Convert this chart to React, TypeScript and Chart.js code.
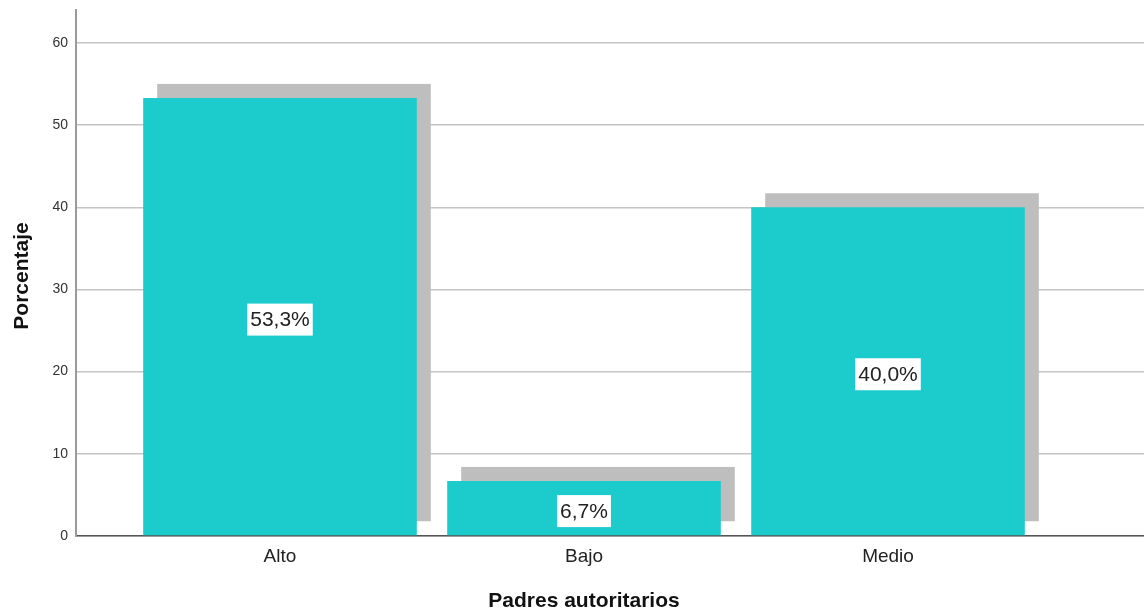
import React, { useEffect, useRef } from "react";
import { Chart, registerables } from "chart.js";

Chart.register(...registerables);

const categories = ["Alto", "Bajo", "Medio"];
const percentages = [53.3, 6.7, 40.0];
const yTicks = [0, 10, 20, 30, 40, 50, 60];
const xTitle = "Padres autoritarios";
const yTitle = "Porcentaje";

const FONT = "'Liberation Sans', Arial, sans-serif";

const shadowPlugin = {
  id: "barShadow",
  beforeDatasetsDraw(chart: any) {
    const ctx = chart.ctx;
    const meta = chart.getDatasetMeta(0);
    ctx.save();
    ctx.fillStyle = "#bebebe";
    meta.data.forEach((bar: any) => {
      const p = bar.getProps(["x", "y", "base", "width"], true);
      ctx.fillRect(p.x - p.width / 2 + 14, p.y - 14, p.width, p.base - p.y);
    });
    ctx.restore();
  },
};

const labelPlugin = {
  id: "barLabels",
  afterDatasetsDraw(chart: any) {
    const ctx = chart.ctx;
    const meta = chart.getDatasetMeta(0);
    ctx.save();
    ctx.font = `21px ${FONT}`;
    ctx.textAlign = "center";
    ctx.textBaseline = "middle";
    meta.data.forEach((bar: any, i: number) => {
      const p = bar.getProps(["x", "y", "base"], true);
      const text = percentages[i].toFixed(1).replace(".", ",") + "%";
      const w = ctx.measureText(text).width + 6;
      const h = 32;
      const cy = (p.y + p.base) / 2 + 3;
      ctx.fillStyle = "#ffffff";
      ctx.fillRect(p.x - w / 2, cy - h / 2, w, h);
      ctx.fillStyle = "#222222";
      ctx.fillText(text, p.x, cy + 1);
    });
    ctx.restore();
  },
};

const titlePlugin = {
  id: "axisTitles",
  afterDraw(chart: any) {
    const ctx = chart.ctx;
    const area = chart.chartArea;
    const xs = chart.scales.x;
    ctx.save();
    ctx.font = `bold 21px ${FONT}`;
    ctx.fillStyle = "#111111";
    ctx.textAlign = "center";
    ctx.textBaseline = "middle";
    ctx.fillText(xTitle, xs.getPixelForValue(1), 601);
    ctx.translate(22, (area.top + area.bottom) / 2 + 3);
    ctx.rotate(-Math.PI / 2);
    ctx.fillText(yTitle, 0, 0);
    ctx.restore();
  },
};

export default function App() {
  const ref = useRef<HTMLCanvasElement | null>(null);

  useEffect(() => {
    if (!ref.current) return;
    const chart = new Chart(ref.current, {
      type: "bar",
      data: {
        datasets: [
          {
            data: categories.map((c, i) => ({ x: i, y: percentages[i] })),
            backgroundColor: "#1ccbcb",
            borderWidth: 0,
            barPercentage: 0.9,
            categoryPercentage: 1,
          },
        ],
      },
      options: {
        animation: false,
        responsive: false,
        maintainAspectRatio: false,
        layout: { padding: { top: 10, left: 0, right: 0, bottom: 0 } },
        plugins: {
          legend: { display: false },
          tooltip: { enabled: false },
        },
        scales: {
          x: {
            type: "linear",
            offset: false,
            min: -0.671,
            max: 2.842,
            afterBuildTicks: (scale: any) => {
              scale.ticks = categories.map((_, i) => ({ value: i }));
            },
            afterFit: (scale: any) => {
              scale.height = 76;
              scale.paddingLeft = 0;
              scale.paddingRight = 0;
            },
            ticks: {
              callback: (v: any) => categories[v as number] ?? "",
              font: { family: FONT, size: 19 },
              color: "#222222",
              padding: 9,
              maxRotation: 0,
              autoSkip: false,
            },
            grid: { display: false, drawTicks: false, offset: false },
            border: { display: true, color: "#555555", width: 1.5 },
          },
          y: {
            min: 0,
            max: 64,
            afterBuildTicks: (scale: any) => {
              scale.ticks = yTicks.map((v) => ({ value: v }));
            },
            afterFit: (scale: any) => {
              scale.width = 76;
              scale.paddingTop = 0;
              scale.paddingBottom = 0;
            },
            ticks: {
              font: { family: FONT, size: 14 },
              color: "#333333",
              padding: 8,
            },
            grid: { color: "#c4c4c4", lineWidth: 1.5, drawTicks: false },
            border: { display: true, color: "#9a9a9a", width: 2 },
          },
        },
      },
      plugins: [shadowPlugin, labelPlugin, titlePlugin],
    });
    return () => chart.destroy();
  }, []);

  return (
    <div style={{ position: "fixed", left: 0, top: 0, width: 1144, height: 612, background: "#fff" }}>
      <canvas ref={ref} width={1144} height={612} style={{ width: 1144, height: 612 }} />
    </div>
  );
}
